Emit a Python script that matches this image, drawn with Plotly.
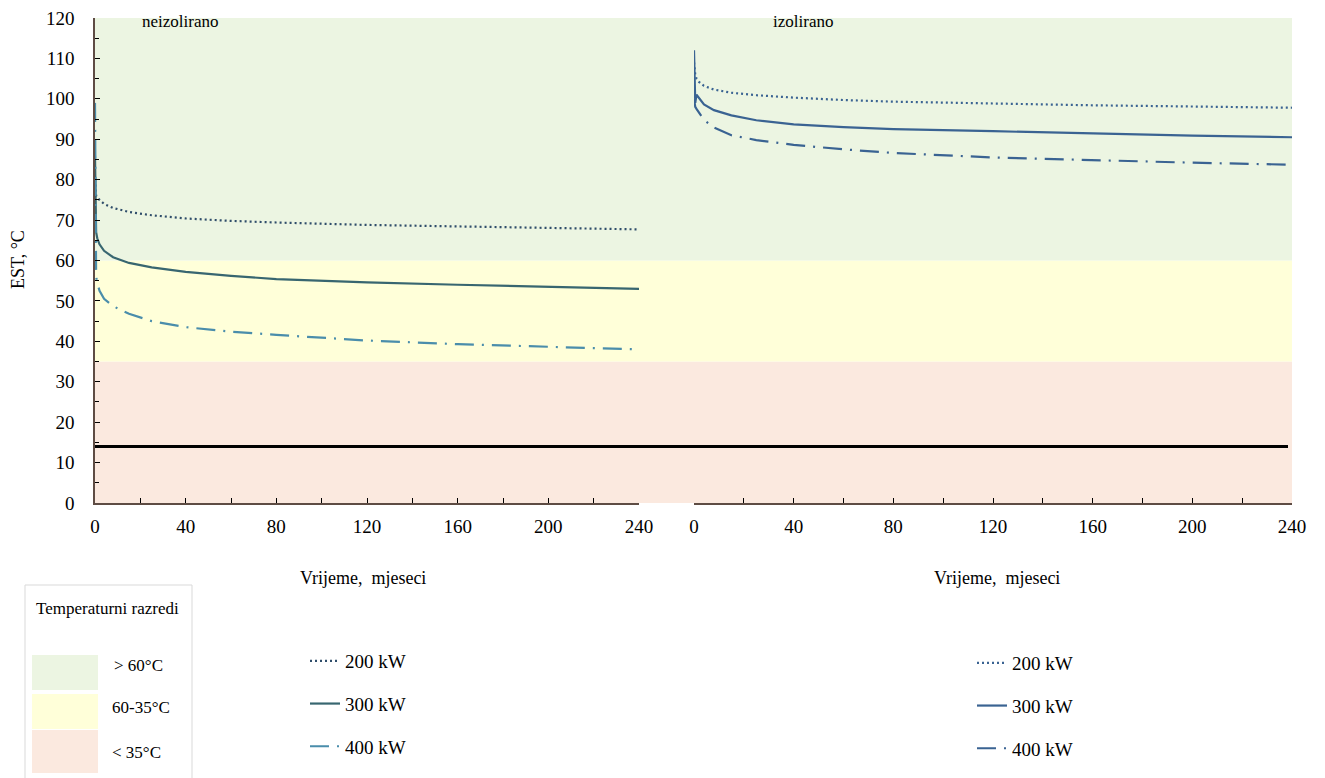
import plotly.graph_objects as go

# ---------------- data ----------------
months = [0, 0.5, 1, 2, 4, 8, 15, 25, 40, 60, 80, 120, 160, 200, 240]

# neizolirano (uninsulated)
neiz_200 = [80, 76, 75.5, 75, 74, 73, 72, 71.2, 70.4, 69.8, 69.4, 68.8, 68.4, 68.0, 67.7]
neiz_300 = [86, 67, 65.5, 64, 62.4, 60.8, 59.4, 58.3, 57.2, 56.2, 55.4, 54.6, 54.0, 53.5, 53.0]
neiz_400 = [99, 56, 54.5, 52.5, 50.5, 48.7, 46.8, 45.0, 43.5, 42.4, 41.6, 40.2, 39.3, 38.6, 38.0]

# izolirano (insulated)
iz_200 = [109, 106, 105, 104.2, 103.2, 102.3, 101.5, 100.9, 100.3, 99.7, 99.3, 98.8, 98.4, 98.1, 97.8]
iz_300 = [112, 99, 101, 100.2, 98.6, 97.2, 95.9, 94.7, 93.7, 93.0, 92.5, 92.0, 91.4, 90.9, 90.5]
iz_400 = [100, 98, 97.5, 96.5, 94.8, 92.9, 91.0, 89.8, 88.6, 87.5, 86.6, 85.5, 84.8, 84.2, 83.7]

series_names = ["200 kW", "300 kW", "400 kW"]
panel_titles = ["neizolirano", "izolirano"]
x_title = "Vrijeme,  mjeseci"
y_title = "EST, °C"

band_edges = [0, 35, 60, 120]
band_labels = ["< 35°C", "60-35°C", "> 60°C"]
band_colors = ["#fbe9df", "#ffffd9", "#ecf5e2"]
band_legend_title = "Temperaturni razredi"

reference_level = 14

x_ticks = [0, 40, 80, 120, 160, 200, 240]

# ---------------- styles ----------------
FONT = "Liberation Serif"
dash_dot = "2px,3px"
dash_dashdot = "19px,8px,2px,8px"
left_colors = ["#2f4d6a", "#386670", "#4a8dab"]
right_color = "#3a6392"
dashes = [dash_dot, "solid", dash_dashdot]

W, H = 1325, 778
OFF = 8  # page offset of the figure (body margin)
# plot area in page pixels
L, R, T, B = 95, 1292, 18, 503
def px(x):
    return (x - L) / (R - L)
def py(y):
    return (B - y) / (B - T)
def cx(x):
    return (x - OFF) / W
def cy(y):
    return 1 - (y - OFF) / H

fig = go.Figure()

left_series = [neiz_200, neiz_300, neiz_400]
right_series = [iz_200, iz_300, iz_400]
for i, (name, vals) in enumerate(zip(series_names, left_series)):
    fig.add_trace(go.Scatter(
        x=months, y=vals, name=name, mode="lines",
        line=dict(color=left_colors[i], width=2.2, dash=dashes[i]),
        xaxis="x", yaxis="y", legend="legend", legendgroup="L" + str(i)))
for i, (name, vals) in enumerate(zip(series_names, right_series)):
    fig.add_trace(go.Scatter(
        x=months, y=vals, name=name, mode="lines",
        line=dict(color=right_color, width=2.2, dash=dashes[i]),
        xaxis="x2", yaxis="y", legend="legend2", legendgroup="R" + str(i)))

shapes = []
for k in range(len(band_colors)):
    shapes.append(dict(type="rect", xref="paper", yref="y", x0=0, x1=1,
                       y0=band_edges[k], y1=band_edges[k + 1],
                       fillcolor=band_colors[k], line=dict(width=0), layer="below"))
shapes.append(dict(type="line", xref="paper", yref="y", x0=0, x1=px(1288),
                   y0=reference_level, y1=reference_level,
                   line=dict(color="black", width=3), layer="above"))
shapes.append(dict(type="rect", xref="paper", yref="paper", x0=px(25), x1=px(192),
                   y0=py(800), y1=py(585), line=dict(color="#d9d9d9", width=1),
                   fillcolor="rgba(0,0,0,0)"))
sq = [(655, 690), (694, 729), (730, 773)]
label_y = [665, 707, 752]
label_x = [112, 110, 110]
for j, (y0, y1) in enumerate(sq):
    k = len(band_colors) - 1 - j
    shapes.append(dict(type="rect", xref="paper", yref="paper", x0=px(32), x1=px(98),
                       y0=py(y1), y1=py(y0), fillcolor=band_colors[k], line=dict(width=0)))

def ann(text, x, y, size, xanchor="center", angle=0):
    return dict(text=text, x=px(x), y=py(y), xref="paper", yref="paper",
                xanchor=xanchor, yanchor="middle", showarrow=False, textangle=angle,
                font=dict(family=FONT, size=size, color="black"))

annotations = [
    ann(panel_titles[0], 180, 22, 17),
    ann(panel_titles[1], 803, 22, 17),
    ann(x_title, 363, 578, 18),
    ann(x_title, 997, 578, 18),
    ann(y_title, 18, 260, 18, angle=-90),
    ann(band_legend_title, 107, 608, 17),
]
for j in range(3):
    k = len(band_labels) - 1 - j
    annotations.append(ann(band_labels[k], label_x[j], label_y[j], 17, "left"))

axis_color = "#5e4c44"
tickfont = dict(family=FONT, size=19, color="black")
common_x = dict(range=[0, 240], tickvals=x_ticks, ticks="inside", ticklen=5,
                tickcolor="black", showline=True, linecolor=axis_color, linewidth=1.5,
                showgrid=False, zeroline=False, anchor="y", automargin=False,
                tickfont=tickfont, ticklabelstandoff=5, ticklabeloverflow="allow",
                minor=dict(dtick=20, ticks="inside", ticklen=5, tickcolor="black"))

legend_common = dict(font=dict(family=FONT, size=19, color="black"),
                     bgcolor="rgba(0,0,0,0)", tracegroupgap=15,
                     xref="container", yref="container",
                     xanchor="left", yanchor="top", itemwidth=30)

fig.update_layout(
    width=W, height=H,
    margin=dict(l=L - OFF, r=W - (R - OFF), t=T - OFF, b=H - (B - OFF), autoexpand=False),
    paper_bgcolor="white", plot_bgcolor="white",
    font=dict(family=FONT, size=19, color="black"),
    xaxis=dict(domain=[0, px(639)], **common_x),
    xaxis2=dict(domain=[px(694), 1], **common_x),
    yaxis=dict(range=[0, 120], dtick=10, ticks="inside", ticklen=5, tickcolor="black",
               showline=True, linecolor=axis_color, linewidth=1.5, showgrid=False,
               zeroline=False, ticklabelstandoff=15, automargin=False,
               ticklabeloverflow="allow", tickfont=tickfont,
               minor=dict(dtick=5, ticks="inside", ticklen=4, tickcolor="black")),
    legend=dict(x=cx(305), y=cy(642), **legend_common),
    legend2=dict(x=cx(972), y=cy(644), **legend_common),
    shapes=shapes,
    annotations=annotations,
)

fig.write_html("out.html")
